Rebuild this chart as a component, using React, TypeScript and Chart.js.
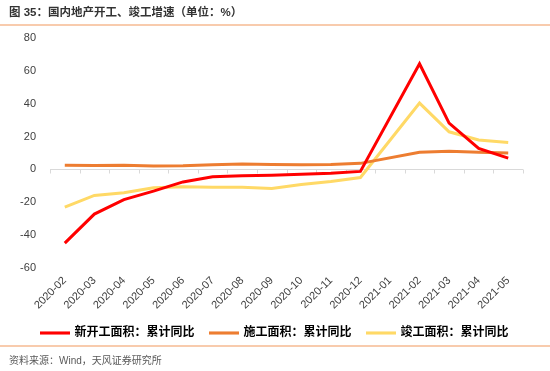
import React, { useEffect, useRef } from "react";
import { Chart, registerables } from "chart.js";

Chart.register(...registerables);

const categories = [
  "2020-02", "2020-03", "2020-04", "2020-05", "2020-06", "2020-07", "2020-08", "2020-09",
  "2020-10", "2020-11", "2020-12", "2021-01", "2021-02", "2021-03", "2021-04", "2021-05",
];
const newStarts = [-44.9, -27.2, -18.4, -13.2, -7.6, -4.4, -3.9, -3.6, -3.0, -2.3, -1.2, null, 64.3, 28.2, 12.8, 6.9];
const underConstruction = [2.6, 2.4, 2.5, 2.1, 2.2, 2.9, 3.3, 3.0, 2.9, 3.0, 3.7, null, 10.4, 11.0, 10.5, 10.0];
const completions = [-22.9, -15.8, -14.2, -11.2, -10.5, -10.8, -10.8, -11.6, -9.2, -7.3, -4.9, null, 40.4, 22.9, 17.9, 16.4];
const seriesNames = ["新开工面积：累计同比", "施工面积：累计同比", "竣工面积：累计同比"];
const seriesColors = ["#ff0000", "#ed7d31", "#ffd966"];
const yMin = -60;
const yMax = 80;
const yStep = 20;

const latin = "'Liberation Sans', Arial, 'Noto Sans CJK SC', sans-serif";
const cjk = "'Liberation Sans', 'Noto Sans CJK SC', sans-serif";

const zeroAxisPlugin = {
  id: "zeroAxis",
  beforeDatasetsDraw(chart: any) {
    const { ctx, scales, chartArea } = chart;
    const x = scales.x;
    const y = scales.y;
    const y0 = Math.round(y.getPixelForValue(0)) + 0.5;
    ctx.save();
    ctx.strokeStyle = "#d9d9d9";
    ctx.lineWidth = 1;
    ctx.beginPath();
    ctx.moveTo(chartArea.left, y0);
    ctx.lineTo(chartArea.right, y0);
    const n = categories.length;
    const step = n > 1 ? x.getPixelForValue(1) - x.getPixelForValue(0) : 0;
    for (let i = 0; i <= n; i++) {
      const px = Math.round(x.getPixelForValue(i) - step / 2) + 0.5;
      ctx.moveTo(px, y0);
      ctx.lineTo(px, y0 + 4);
    }
    ctx.stroke();
    ctx.restore();
  },
};

function LineChart() {
  const ref = useRef<HTMLCanvasElement | null>(null);
  useEffect(() => {
    if (!ref.current) return;
    const data = [newStarts, underConstruction, completions];
    const chart = new Chart(ref.current, {
      type: "line",
      data: {
        labels: categories,
        datasets: data.map((d, i) => ({
          label: seriesNames[i],
          data: d,
          borderColor: seriesColors[i],
          backgroundColor: seriesColors[i],
          borderWidth: 3,
          pointRadius: 0,
          pointHoverRadius: 0,
          tension: 0,
          spanGaps: true,
          fill: false,
        })),
      },
      options: {
        animation: false,
        responsive: false,
        maintainAspectRatio: false,
        layout: { padding: { top: 38, right: 0, bottom: 22, left: 0 } },
        plugins: {
          tooltip: { enabled: false },
          legend: {
            position: "bottom",
            labels: {
              boxWidth: 27,
              boxHeight: 0.1,
              padding: 16,
              color: "#000",
              font: { family: cjk, size: 12, weight: "bold" },
              generateLabels(chart: any) {
                return chart.data.datasets.map((ds: any, i: number) => ({
                  text: ds.label,
                  fillStyle: ds.borderColor,
                  strokeStyle: ds.borderColor,
                  lineWidth: 3,
                  lineJoin: "miter",
                  hidden: false,
                  datasetIndex: i,
                  fontColor: "#000",
                }));
              },
            },
          },
        },
        scales: {
          x: {
            type: "category",
            offset: true,
            grid: { display: false, drawTicks: false },
            border: { display: false },
            ticks: {
              autoSkip: false,
              minRotation: 45,
              maxRotation: 45,
              padding: 6,
              color: "#404040",
              font: { family: latin, size: 11 },
            },
            afterFit(scale: any) {
              scale.height = 43;
            },
          },
          y: {
            min: yMin,
            max: yMax,
            grid: { display: false, drawTicks: false },
            border: { display: false },
            ticks: {
              stepSize: yStep,
              padding: 14,
              color: "#404040",
              font: { family: latin, size: 11 },
            },
            afterFit(scale: any) {
              scale.width = 50;
            },
          },
          yRight: {
            position: "right",
            min: yMin,
            max: yMax,
            grid: { display: false, drawTicks: false },
            border: { display: false },
            ticks: { display: false },
            afterFit(scale: any) {
              scale.width = 27;
            },
          },
        },
      },
      plugins: [zeroAxisPlugin],
    });
    return () => chart.destroy();
  }, []);
  return <canvas ref={ref} width={550} height={371} style={{ position: "absolute", left: 0, top: 0 }} />;
}

export default function App() {
  useEffect(() => {
    document.body.style.margin = "0";
  }, []);
  return (
    <div style={{ position: "relative", width: 550, height: 371, background: "#fff", overflow: "hidden" }}>
      <LineChart />
      <div
        style={{
          position: "absolute",
          left: 9,
          top: 4,
          fontFamily: cjk,
          fontSize: 11.5,
          fontWeight: 600,
          color: "#333",
          lineHeight: "16px",
          whiteSpace: "nowrap",
        }}
      >
        图 35：国内地产开工、竣工增速（单位：%）
      </div>
      <div style={{ position: "absolute", left: 0, top: 24, width: 550, height: 1.5, background: "#f8cbad" }} />
      <div style={{ position: "absolute", left: 0, top: 345, width: 550, height: 1.5, background: "#f8cbad" }} />
      <div
        style={{
          position: "absolute",
          left: 9,
          top: 353,
          fontFamily: cjk,
          fontSize: 10,
          color: "#595959",
          lineHeight: "16px",
          whiteSpace: "nowrap",
        }}
      >
        资料来源：Wind，天风证券研究所
      </div>
    </div>
  );
}
